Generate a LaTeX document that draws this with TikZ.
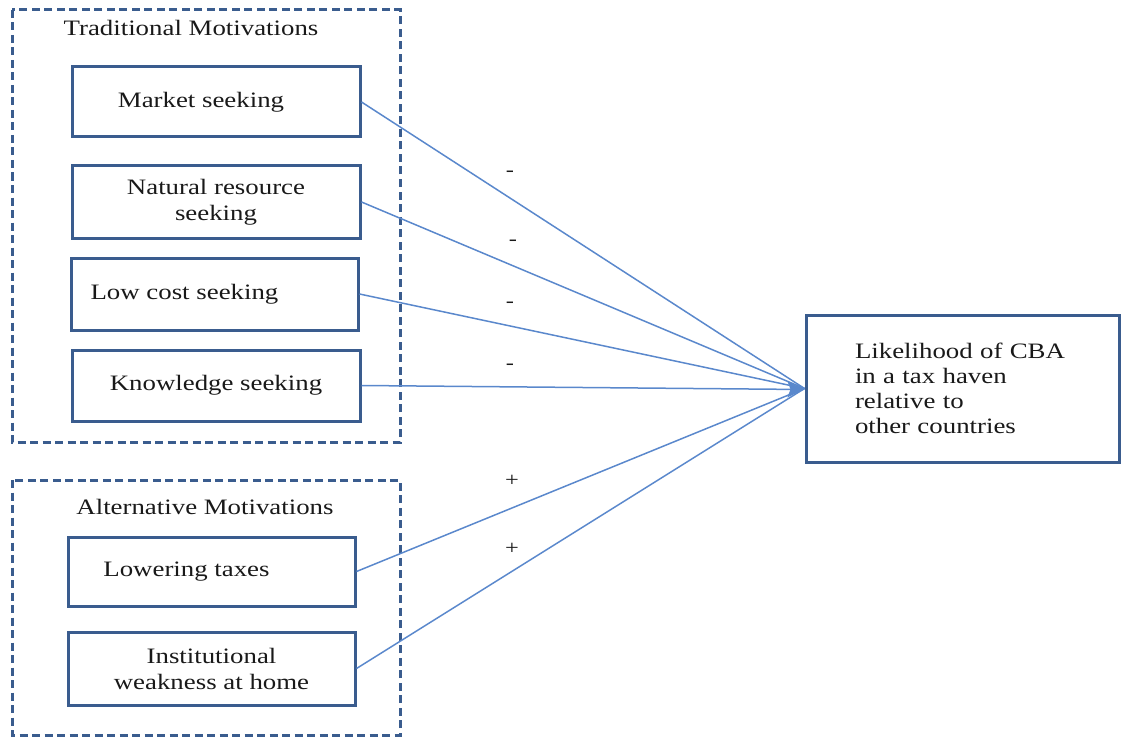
\documentclass[tikz,border=0pt]{standalone}
\usepackage{fontspec}
\setmainfont{Liberation Serif}[FakeStretch=1.22]
\usepackage{tikz}
\usetikzlibrary{arrows}
\usetikzlibrary{arrows.meta}
\usepackage{color}
\definecolor{boxblue}{RGB}{58, 92, 142}
\definecolor{lineblue}{RGB}{90, 136, 204}
\definecolor{inkgray}{RGB}{25, 25, 25}
\tikzset{
    motive/.style={draw=boxblue, line width=3pt, minimum width=288pt, minimum height=71pt,
                   align=center, text=inkgray, font=\fontsize{22}{26}\selectfont},
    group/.style={draw=boxblue, line width=3pt, dash pattern=on 8pt off 4.5pt},
    heading/.style={text=inkgray, font=\fontsize{22}{26}\selectfont},
    effect/.style={color=lineblue, line width=1.5pt},
    sign/.style={text=inkgray, font=\fontsize{20}{24}\selectfont}
}

\begin{document}
\begin{tikzpicture}[x=1pt, y=-1pt]
    \useasboundingbox (0,0) rectangle (1123,738);
    % traditional motivations
    \draw[group] (12,10) rectangle (400,442);
    \node[heading] (tradtitle) at (191,28) {Traditional Motivations};
    \node[motive, minimum height=70pt]            (mkt)  at (216,102)   {Market seeking\hspace*{30pt}};
    \node[motive, minimum height=72pt]            (nat)  at (216,202)   {Natural resource\\seeking};
    \node[motive, minimum height=72pt, minimum width=287pt] (low) at (214.5,294) {Low cost seeking\hspace*{60pt}};
    \node[motive]                                 (know) at (216,385.5) {Knowledge seeking};
    % alternative motivations
    \draw[group] (12,480) rectangle (400,735);
    \node[heading] (alttitle) at (205,507) {Alternative Motivations};
    \node[motive, minimum width=287pt, minimum height=69pt] (tax)  at (211.5,571.5) {Lowering taxes\hspace*{50pt}};
    \node[motive, minimum width=287pt, minimum height=73pt] (inst) at (211.5,668.5) {Institutional\\weakness at home};
    % outcome
    \node[motive, minimum width=313pt, minimum height=147pt, text width=215pt, align=left,
          font=\fontsize{22}{25}\selectfont] (cba) at (962.5,388.5)
          {Likelihood of CBA\\in a tax haven\\relative to\\other countries};
    % effects
    \foreach \src in {mkt, nat, low, tax, inst}
        \draw[effect] (\src.east) -- (cba.west);
    \draw[effect, -{Stealth[length=17pt, width=16pt, inset=3pt]}] (know.east) -- ([yshift=-1pt]cba.west);
    \node[sign] (s1) at (510,174) {-};
    \node[sign] (s2) at (513,243) {-};
    \node[sign] (s3) at (510,305) {-};
    \node[sign] (s4) at (510,367) {-};
    \node[sign] (s5) at (512,481) {+};
    \node[sign] (s6) at (512,549) {+};
\end{tikzpicture}
\end{document}
